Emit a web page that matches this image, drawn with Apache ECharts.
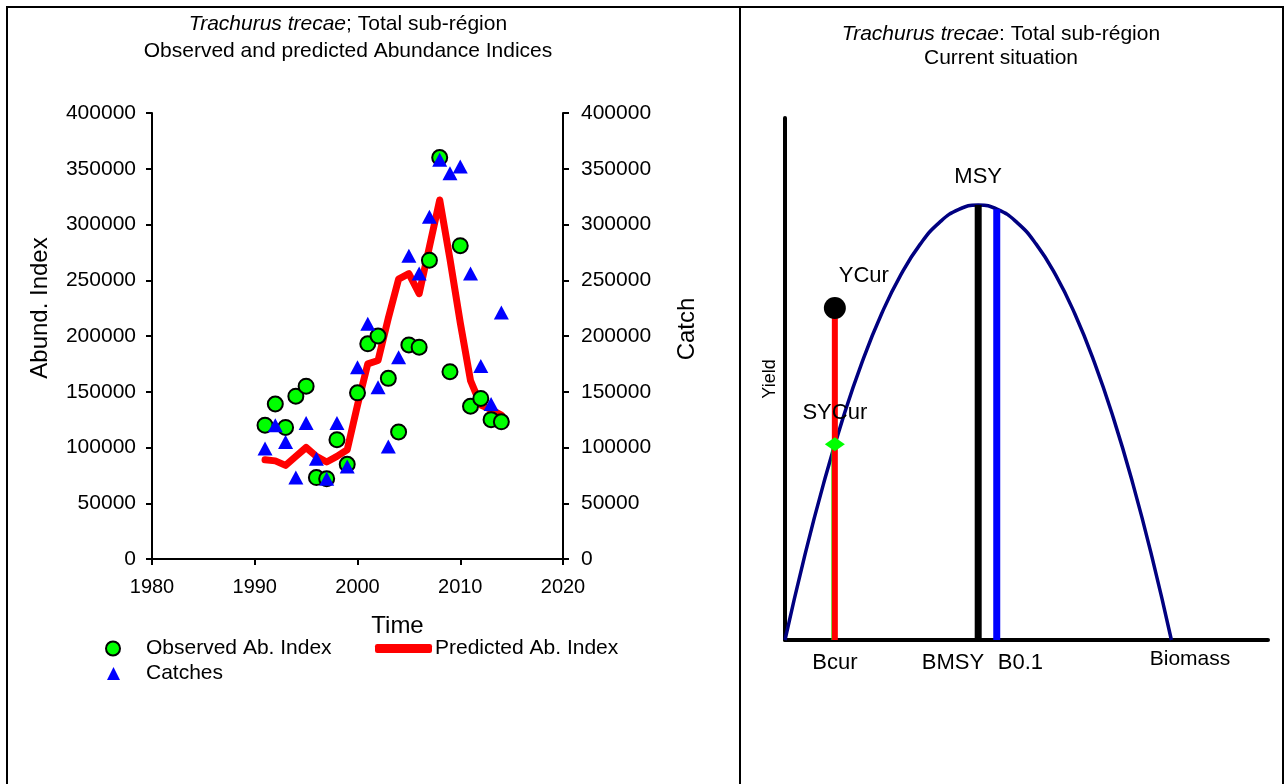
<!DOCTYPE html>
<html>
<head>
<meta charset="utf-8">
<script src="https://cdn.jsdelivr.net/npm/echarts@6/dist/echarts.min.js"></script>
<style>html,body{margin:0;padding:0;background:#fff}#c{width:1285px;height:784px}</style>
</head>
<body>
<div id="c"></div>
<script>
// ---- Left chart data ----
const years = [1991,1992,1993,1994,1995,1996,1997,1998,1999,2000,2001,2002,2003,2004,2005,2006,2007,2008,2009,2010,2011,2012,2013,2014];
const observed = [120000,139000,118000,146000,155000,73000,72000,107000,85000,149000,193000,200000,162000,114000,192000,190000,268000,360000,168000,281000,137000,144000,125000,123000];
const predicted = [89000,88000,84000,92000,100000,92000,87000,92000,98000,138000,175000,178000,216000,251000,256000,238000,280000,322000,269000,212000,160000,138000,134000,129000];
const catches = [99000,120000,105000,73000,122000,90000,72000,122000,83000,172000,211000,154000,101000,181000,272000,256000,307000,358000,346000,352000,256000,173000,139000,221000];
const yTicks = [0,50000,100000,150000,200000,250000,300000,350000,400000];
const xTicks = [1980,1990,2000,2010,2020];

// ---- Right chart data (relative units) ----
const curveBiomass = [0,0.05,0.1,0.15,0.2,0.25,0.3,0.35,0.4,0.45,0.5,0.55,0.6,0.65,0.7,0.75,0.8,0.85,0.9,0.95,1.0];
const curveYield   = [0,0.19,0.36,0.51,0.64,0.75,0.84,0.91,0.96,0.99,1.0,0.99,0.96,0.91,0.84,0.75,0.64,0.51,0.36,0.19,0];
const bcur = 0.129, ycur = 0.763, sycur = 0.45, bcurSY = 0.122;
const bmsy = 0.5, msy = 1.0;
const b01 = 0.548, b01Yield = 0.99;

const FONT = 'Liberation Sans, Arial, sans-serif';
const chart = echarts.init(document.getElementById('c'), null, {renderer:'canvas'});

const pair = (xs, ys) => xs.map((x,i)=>[x, ys[i]]);
const plain = v => String(v);

const option = {
  animation: false,
  backgroundColor: '#fff',
  textStyle: {fontFamily: FONT, color:'#000'},
  title: [
    {text: '{i|Trachurus trecae}; Total sub-région\nObserved and predicted Abundance Indices',
     left: 343, top: 6, textAlign: 'center',
     textStyle: {fontFamily: FONT, fontSize: 21, fontWeight:'normal', color:'#000', lineHeight: 27,
       rich: {i: {fontFamily: FONT, fontSize: 21, fontStyle:'italic', color:'#000', lineHeight: 27}}}},
    {text: '{i|Trachurus trecae}: Total sub-région\nCurrent situation',
     left: 996, top: 17, textAlign: 'center',
     textStyle: {fontFamily: FONT, fontSize: 21, fontWeight:'normal', color:'#000', lineHeight: 24,
       rich: {i: {fontFamily: FONT, fontSize: 21, fontStyle:'italic', color:'#000', lineHeight: 24}}}}
  ],
  legend: [
    {data:[{name:'Observed Ab. Index', icon:'circle'}], left: 100, top: 633, itemWidth: 14, itemHeight: 14,
     textStyle:{fontFamily: FONT, fontSize: 21, color:'#000', padding:[0,0,0,21]}, selectedMode:false},
    {data:[{name:'Predicted Ab. Index', icon:'roundRect'}], left: 370, top: 633, itemWidth: 57, itemHeight: 9,
     itemGap: 0, textStyle:{fontFamily: FONT, fontSize: 21, color:'#000', padding:[0,0,0,-2]}, selectedMode:false},
    {data:[{name:'Catches', icon:'triangle'}], left: 102, top: 658, itemWidth: 13, itemHeight: 13,
     textStyle:{fontFamily: FONT, fontSize: 21, color:'#000', padding:[0,0,0,21]}, selectedMode:false}
  ],
  grid: [
    {left: 152, top: 113, width: 411, height: 446, containLabel: false},
    {left: 785, top: 118, width: 483, height: 522, containLabel: false}
  ],
  xAxis: [
    {gridIndex:0, type:'value', min: xTicks[0], max: xTicks[xTicks.length-1], interval: 10,
     name:'Time', nameLocation:'middle', nameGap: 55,
     nameTextStyle:{fontFamily: FONT, fontSize: 24, color:'#000', padding:[0,0,0,80]},
     axisLine:{show:true, onZero:false, lineStyle:{color:'#000', width:2}},
     axisTick:{show:true, inside:false, length:6, lineStyle:{color:'#000', width:2}},
     axisLabel:{fontFamily: FONT, fontSize: 20, color:'#000', margin: 18, formatter: plain},
     splitLine:{show:false}},
    {gridIndex:1, type:'value', min:0, max:1.25,
     name:'Biomass', nameLocation:'middle', nameGap: 9,
     nameTextStyle:{fontFamily: FONT, fontSize: 21, color:'#000', padding:[0,0,0,327]},
     axisLine:{show:true, onZero:false, lineStyle:{color:'#000', width:4}},
     axisTick:{show:false}, axisLabel:{show:false}, splitLine:{show:false}}
  ],
  yAxis: [
    {gridIndex:0, type:'value', min: yTicks[0], max: yTicks[yTicks.length-1], interval: 50000,
     name:'Abund. Index', nameLocation:'middle', nameGap: 100, nameRotate: 90,
     nameTextStyle:{fontFamily: FONT, fontSize: 24, color:'#000', padding:[0,0,0,56]},
     axisLine:{show:true, onZero:false, lineStyle:{color:'#000', width:2}},
     axisTick:{show:true, inside:false, length:6, lineStyle:{color:'#000', width:2}},
     axisLabel:{fontFamily: FONT, fontSize: 21, color:'#000', margin: 16, formatter: plain},
     splitLine:{show:false}},
    {gridIndex:0, type:'value', position:'right', min: yTicks[0], max: yTicks[yTicks.length-1], interval: 50000,
     name:'Catch', nameLocation:'middle', nameGap: 112, nameRotate: 90,
     nameTextStyle:{fontFamily: FONT, fontSize: 24, color:'#000', padding:[0,0,0,14]},
     axisLine:{show:true, onZero:false, lineStyle:{color:'#000', width:2}},
     axisTick:{show:true, inside:false, length:6, lineStyle:{color:'#000', width:2}},
     axisLabel:{fontFamily: FONT, fontSize: 21, color:'#000', margin: 18, formatter: plain},
     splitLine:{show:false}},
    {gridIndex:1, type:'value', min:0, max:1.2,
     name:'Yield', nameLocation:'middle', nameGap: 6, nameRotate: 90,
     nameTextStyle:{fontFamily: FONT, fontSize: 18, color:'#000'},
     axisLine:{show:true, onZero:false, lineStyle:{color:'#000', width:4}},
     axisTick:{show:false}, axisLabel:{show:false}, splitLine:{show:false}}
  ],
  series: [
    {name:'Predicted Ab. Index', type:'line', xAxisIndex:0, yAxisIndex:0, data: pair(years, predicted),
     showSymbol:false, symbol:'none', z: 2,
     lineStyle:{color:'#ff0000', width:7, cap:'round', join:'round'}, itemStyle:{color:'#ff0000'}},
    {name:'Observed Ab. Index', type:'scatter', xAxisIndex:0, yAxisIndex:0, data: pair(years, observed),
     symbol:'circle', symbolSize: 15, z: 3,
     itemStyle:{color:'#00ff00', borderColor:'#000', borderWidth:2, opacity:1}},
    {name:'Catches', type:'scatter', xAxisIndex:0, yAxisIndex:1, data: pair(years, catches),
     symbol:'triangle', symbolSize: [15,14], z: 4,
     itemStyle:{color:'#0000ff', opacity:1}},

    {name:'Yield curve', type:'line', xAxisIndex:1, yAxisIndex:2, data: pair(curveBiomass, curveYield),
     smooth: true, showSymbol:false, symbol:'none', lineStyle:{color:'#000080', width:3.5}, z: 2},
    {name:'BMSY line', type:'line', xAxisIndex:1, yAxisIndex:2, data: [[bmsy,0],[bmsy,msy]],
     showSymbol:false, symbol:'none', lineStyle:{color:'#000', width:7, cap:'butt'}, z: 3},
    {name:'B0.1 line', type:'line', xAxisIndex:1, yAxisIndex:2, data: [[b01,0],[b01,b01Yield]],
     showSymbol:false, symbol:'none', lineStyle:{color:'#0000ff', width:7, cap:'butt'}, z: 3},
    {name:'SYCur line', type:'line', xAxisIndex:1, yAxisIndex:2, data: [[bcurSY,0],[bcurSY,sycur]],
     showSymbol:false, symbol:'none', lineStyle:{color:'#00ff00', width:1.5}, z: 3},
    {name:'YCur line', type:'line', xAxisIndex:1, yAxisIndex:2, data: [[bcur,0],[bcur,ycur]],
     showSymbol:false, symbol:'none', lineStyle:{color:'#ff0000', width:6, cap:'butt'}, z: 4},
    {name:'YCur', type:'scatter', xAxisIndex:1, yAxisIndex:2, data: [[bcur,ycur]],
     symbol:'circle', symbolSize: 22, itemStyle:{color:'#000', opacity:1}, z: 5,
     label:{show:true, formatter:'YCur', position:'top', distance: 10, offset:[29,0],
            fontFamily: FONT, fontSize: 22, color:'#000'}},
    {name:'SYCur', type:'scatter', xAxisIndex:1, yAxisIndex:2, data: [[bcur,sycur]],
     symbol:'diamond', symbolSize: [20,14], itemStyle:{color:'#00ff00', opacity:1}, z: 5,
     label:{show:true, formatter:'SYCur', position:'top', distance: 13,
            fontFamily: FONT, fontSize: 22, color:'#000'}},
    {name:'Labels', type:'scatter', xAxisIndex:1, yAxisIndex:2, symbolSize: 0, z: 6,
     itemStyle:{opacity:1},
     label:{show:true, formatter:'{b}', fontFamily: FONT, fontSize: 22, color:'#000'},
     data: [
       {name:'MSY', value:[bmsy, msy], label:{position:'top', distance: 17}},
       {name:'Bcur', value:[bcur, 0], label:{position:'bottom', distance: 12}},
       {name:'BMSY', value:[bmsy, 0], label:{position:'bottom', distance: 12, align:'right', offset:[6,0]}},
       {name:'B0.1', value:[b01, 0], label:{position:'bottom', distance: 12, align:'left', offset:[1,0]}}
     ]}
  ],
  graphic: [
    {type:'rect', shape:{x:7, y:7, width:1276, height:800}, style:{fill:null, stroke:'#000', lineWidth:2}, silent:true},
    {type:'line', shape:{x1:740, y1:7, x2:740, y2:784}, style:{stroke:'#000', lineWidth:2}, silent:true}
  ]
};
chart.setOption(option);
</script>
</body>
</html>
